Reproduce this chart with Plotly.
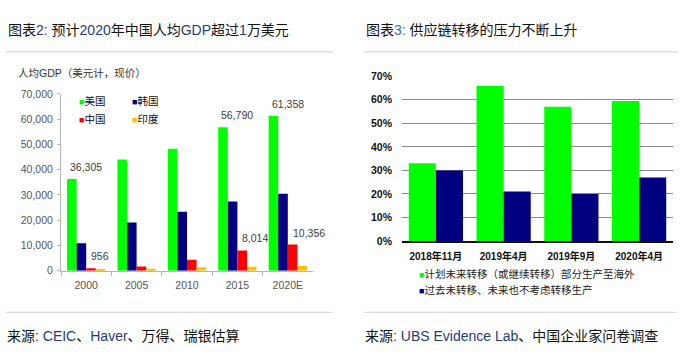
import plotly.graph_objects as go

W, H = 687, 354

# ---------------- data ----------------
years = ["2000", "2005", "2010", "2015", "2020E"]
usa = [36305, 44000, 48300, 56790, 61358]
korea = [10900, 19100, 23300, 27400, 30500]
china = [956, 1700, 4300, 8014, 10356]
india = [450, 730, 1350, 1600, 1900]
left_names = ["美国", "韩国", "中国", "印度"]
labeled_idx = [0, 3, 4]

periods = ["2018年11月", "2019年4月", "2019年9月", "2020年4月"]
plan_move = [0.33, 0.66, 0.57, 0.595]
no_move = [0.30, 0.21, 0.20, 0.27]
right_names = ["计划未来转移（或继续转移）部分生产至海外", "过去未转移、未来也不考虑转移生产"]

# ---------------- style ----------------
FONT = "Liberation Sans, Noto Sans CJK SC, sans-serif"
C_GREEN, C_NAVY, C_RED, C_ORANGE = "#00FF00", "#000080", "#FF0000", "#FFC000"
BLUE_TXT = "#1F3A7A"
left_colors = [C_GREEN, C_NAVY, C_RED, C_ORANGE]
right_colors = [C_GREEN, C_NAVY]


def px(xp):
    return xp / W


def py(yp):
    return 1 - yp / H


fig = go.Figure()

# left chart bars
left_series = [usa, korea, china, india]
bw = 0.19
for i, (name, vals, col) in enumerate(zip(left_names, left_series, left_colors)):
    fig.add_trace(go.Bar(
        x=years, y=vals, name=name, marker=dict(color=col, line=dict(width=0)),
        width=bw, offset=-2 * bw + i * bw, xaxis="x", yaxis="y", showlegend=False,
    ))

# right chart bars
rw = 0.4
for i, (name, vals, col) in enumerate(zip(right_names, [plan_move, no_move], right_colors)):
    fig.add_trace(go.Bar(
        x=periods, y=vals, name=name, marker=dict(color=col, line=dict(width=0)),
        width=rw, offset=-rw + i * rw, xaxis="x2", yaxis="y2", showlegend=False,
    ))

ann = []
# value labels (left) - x given as category index
for k in labeled_idx:
    ann.append(dict(x=k, y=usa[k], xref="x", yref="y", text=f"{usa[k]:,}",
                    showarrow=False, xanchor="center", yanchor="bottom", yshift=4,
                    font=dict(size=10.5, color="#404040", family=FONT)))
    ann.append(dict(x=k, y=china[k], xref="x", yref="y", text=f"{china[k]:,}",
                    showarrow=False, xanchor="left", yanchor="bottom", yshift=4, xshift=3,
                    font=dict(size=10.5, color="#404040", family=FONT)))

# titles
ann.append(dict(xref="paper", yref="paper", x=px(6), y=py(25), xanchor="left", yanchor="middle",
                showarrow=False, font=dict(size=14, color="#111", family=FONT),
                text=f"图表<span style='color:{BLUE_TXT}'>2: </span>预计<span style='color:{BLUE_TXT}'>2020</span>年中国人均<span style='color:{BLUE_TXT}'>GDP</span>超过<span style='color:{BLUE_TXT}'>1</span>万美元"))
ann.append(dict(xref="paper", yref="paper", x=px(364), y=py(25), xanchor="left", yanchor="middle",
                showarrow=False, font=dict(size=14, color="#111", family=FONT),
                text=f"图表<span style='color:#3A6FC4'>3: </span>供应链转移的压力不断上升"))
# sources
ann.append(dict(xref="paper", yref="paper", x=px(5), y=py(342), xanchor="left", yanchor="middle",
                showarrow=False, font=dict(size=14, color="#111", family=FONT),
                text=f"来源<span style='color:{BLUE_TXT}'>: CEIC</span>、<span style='color:{BLUE_TXT}'>Haver</span>、万得、瑞银估算"))
ann.append(dict(xref="paper", yref="paper", x=px(363), y=py(342), xanchor="left", yanchor="middle",
                showarrow=False, font=dict(size=14, color="#111", family=FONT),
                text=f"来源<span style='color:{BLUE_TXT}'>: UBS Evidence Lab</span>、中国企业家问卷调查"))
# left y-axis title
ann.append(dict(xref="paper", yref="paper", x=px(16), y=py(69), xanchor="left", yanchor="middle",
                showarrow=False, font=dict(size=10.5, color="#333", family=FONT),
                text="人均GDP（美元计，现价）"))

# left legend (2 x 2)
leg_pos = [(77, 98), (130, 98), (77, 117), (130, 117)]
for (lx, ly), name, col in zip(leg_pos, left_names, left_colors):
    ann.append(dict(xref="paper", yref="paper", x=px(lx), y=py(ly), xanchor="left", yanchor="middle",
                    showarrow=False, font=dict(size=10.5, color="#111", family=FONT),
                    text=f"<span style='color:{col};font-size:9px'>■</span>{name}"))
# right legend
for ly, name, col in zip([277.5, 293.5], right_names, right_colors):
    ann.append(dict(xref="paper", yref="paper", x=px(417), y=py(ly), xanchor="left", yanchor="middle",
                    showarrow=False, font=dict(size=10.5, color="#222", family=FONT),
                    text=f"<span style='color:{col};font-size:9px'>■</span>{name}"))

shapes = [
    dict(type="line", xref="paper", yref="paper", x0=px(6), x1=px(333), y0=py(47.5), y1=py(47.5),
         line=dict(color="#cfcfcf", width=1)),
    dict(type="line", xref="paper", yref="paper", x0=px(364), x1=px(678), y0=py(47.5), y1=py(47.5),
         line=dict(color="#cfcfcf", width=1)),
    dict(type="line", xref="paper", yref="paper", x0=px(6), x1=px(333), y0=py(317), y1=py(317),
         line=dict(color="#cfcfcf", width=1)),
    dict(type="line", xref="paper", yref="paper", x0=px(364), x1=px(677), y0=py(317), y1=py(317),
         line=dict(color="#cfcfcf", width=1)),
]

fig.update_layout(
    width=W, height=H, margin=dict(l=0, r=0, t=0, b=0),
    paper_bgcolor="white", plot_bgcolor="white",
    barmode="overlay", showlegend=False,
    font=dict(family=FONT, color="#333"),
    annotations=ann, shapes=shapes,
    xaxis=dict(domain=[px(61), px(313)], anchor="y", type="category", range=[-0.5, len(years) - 0.5],
               showline=True, linecolor="#b5b5b5", linewidth=1,
               ticks="outside", tickson="boundaries", ticklen=4, tickcolor="#b5b5b5",
               ticklabelstandoff=5,
               tickfont=dict(size=10.5, color="#555", family=FONT), showgrid=False),
    yaxis=dict(domain=[py(274), py(91)], anchor="x", range=[0, 70000], dtick=10000,
               tickformat=",d", showline=True, linecolor="#b5b5b5", linewidth=1,
               ticks="outside", ticklen=3, tickcolor="#b5b5b5", showgrid=False, zeroline=False,
               ticklabelstandoff=2,
               tickfont=dict(size=10.5, color="#555", family=FONT)),
    xaxis2=dict(domain=[px(402), px(673)], anchor="y2", type="category", range=[-0.5, len(periods) - 0.5],
                showline=True, linecolor="#111", linewidth=2, ticks="", showgrid=False,
                ticklabelstandoff=5,
                tickfont=dict(size=10, color="#111", family="Liberation Sans, Noto Sans CJK SC", weight="bold")),
    yaxis2=dict(domain=[py(243.3), py(72.7)], anchor="x2", range=[0, 0.7], dtick=0.1,
                tickformat=".0%", showgrid=True, gridcolor="#8a8a8a", gridwidth=1,
                showline=False, zeroline=False, ticks="", ticklabelstandoff=9,
                tickfont=dict(size=10.5, color="#111", family="Liberation Sans", weight="bold")),
)

fig.write_html("out.html")
